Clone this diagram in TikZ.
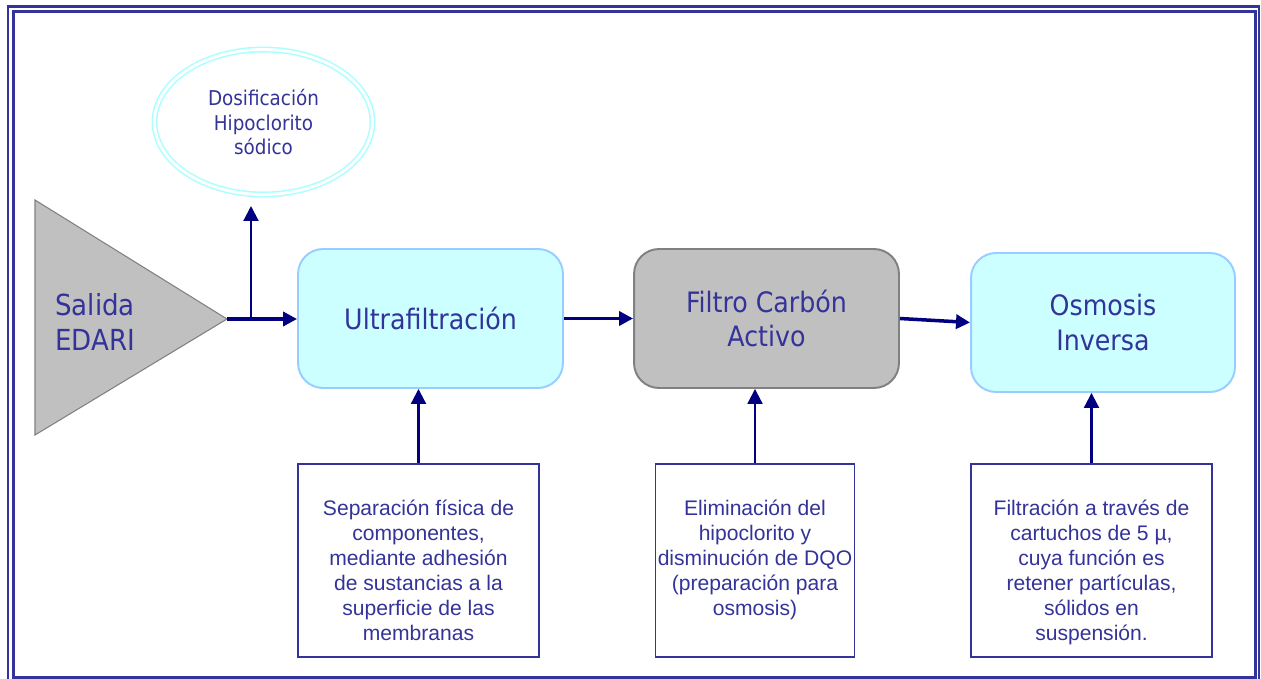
\documentclass[tikz,border=0pt]{standalone}
\usepackage{fontspec}
\setmainfont{DejaVu Sans Condensed}
\newfontfamily\arialfont{Liberation Sans}
\usetikzlibrary{arrows.meta}
\usetikzlibrary{shapes.geometric}
\definecolor{textblue}{HTML}{333399}
\definecolor{arrowblue}{HTML}{000080}
\definecolor{procfill}{HTML}{CCFFFF}
\definecolor{procedge}{HTML}{99CCFF}
\definecolor{boxgray}{HTML}{C0C0C0}
\definecolor{edgegray}{HTML}{808080}
\tikzset{frame/.style={draw=textblue, line width=1.4pt}}
\tikzset{proc/.style={draw=procedge, fill=procfill, line width=1.1pt, rounded corners=0.5cm, minimum width=5.3cm, minimum height=2.78cm, text=textblue, font=\fontsize{16}{19.8}\selectfont, align=center}}
\tikzset{grayproc/.style={proc, draw=edgegray, fill=boxgray}}
\tikzset{note/.style={draw=textblue, line width=1.1pt, minimum height=3.86cm}}
\tikzset{notetext/.style={anchor=north, text=textblue, align=center, inner sep=0pt, font=\arialfont\fontsize{12}{14.2}\selectfont}}
\tikzset{flow/.style={draw=arrowblue, line width=2pt, -{Triangle[length=8pt,width=8pt]}}}
\tikzset{feed/.style={draw=arrowblue, line width=1.2pt, -{Triangle[length=8.5pt,width=8.5pt]}}}

\begin{document}
\begin{tikzpicture}[x=0.02cm, y=-0.02cm]
    \useasboundingbox (0,0) rectangle (1261,679);
    \clip (0,0) rectangle (1261,679);
    % double frame
    \draw[frame] (8,6.5) rectangle (1259,700);
    \draw[frame] (13.5,11.5) rectangle (1255.5,677.5);

    % source
    \coordinate (EDtip) at (227,319);
    \draw[fill=boxgray, draw=edgegray, line width=0.6pt] (35,200) -- (EDtip) -- (35,435) -- cycle;
    \node (ED) at (55,322) [anchor=west, text=textblue, align=left, inner sep=0pt,
      font=\fontsize{16.5}{19.8}\selectfont] {Salida\\EDARI};

    % dosing
    \node (NaClO) at (263.5,122) [ellipse, draw=procfill!85!cyan, double=white, double distance=1.6pt,
      line width=0.9pt, minimum width=4.36cm, minimum height=2.9cm, text=textblue, align=center,
      font=\fontsize{11.6}{14.2}\selectfont] {Dosificación\\Hipoclorito\\sódico};

    % process line
    \node (UF) at (430.5,318.5) [proc] {Ultrafiltración};
    \node (CA) at (766.5,318.5) [grayproc] {Filtro Carbón\\Activo};
    \node (OI) at (1103,322.5) [proc, minimum width=5.28cm] {Osmosis\\Inversa};

    % notes
    \node (UFnote) at (418.5,560.5) [note, minimum width=4.82cm] {};
    \node (CAnote) at (755,560.5) [note, minimum width=3.98cm] {};
    \node (OInote) at (1091.5,560.5) [note, minimum width=4.82cm] {};
    \node (UFtext) at (418.5,500) [notetext] {Separación física de\\componentes,\\mediante adhesión\\de sustancias a la\\superficie de las\\membranas};
    \node (CAtext) at (755,500) [notetext] {Eliminación del\\hipoclorito y\\disminución de DQO\\(preparación para\\osmosis)};
    \node (OItext) at (1091.5,500) [notetext] {Filtración a través de\\cartuchos de 5 µ,\\cuya función es\\retener partículas,\\sólidos en\\suspensión.};

    % connectors
    \coordinate (split) at (251,319);
    \coordinate (dose) at (251,206);
    \draw[flow] (EDtip) -- (UF.west |- EDtip);
    \draw[feed] (split) -- (dose);
    \draw[flow] (UF.east) -- (CA.west);
    \draw[flow] (CA.east) -- (OI.west);
    \draw[feed] (UFnote.north) -- (UFnote.north |- UF.south);
    \draw[feed] (CAnote.north) -- (CAnote.north |- CA.south);
    \draw[feed] (OInote.north) -- (OInote.north |- OI.south);
\end{tikzpicture}
\end{document}
